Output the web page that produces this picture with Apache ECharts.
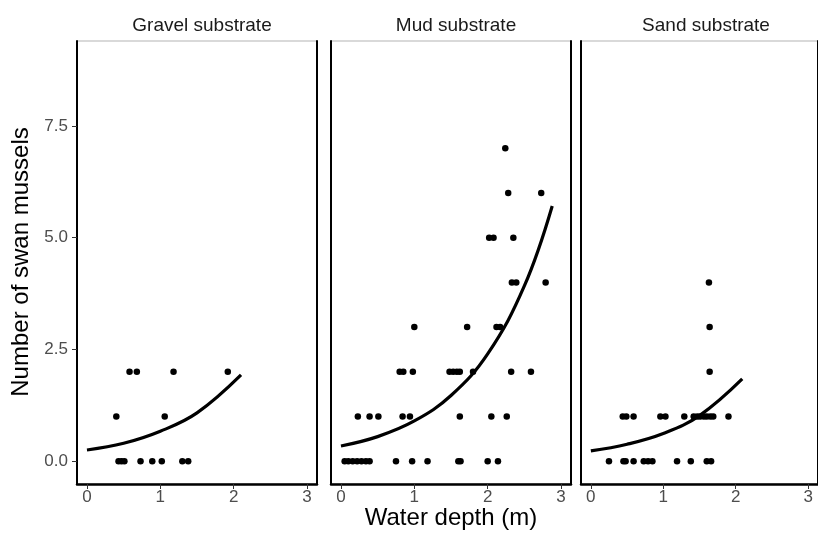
<!DOCTYPE html>
<html>
<head>
<meta charset="utf-8">
<script src="https://cdn.jsdelivr.net/npm/echarts@6/dist/echarts.min.js"></script>
<style>
  html, body { margin: 0; padding: 0; background: #ffffff; }
  #chart { width: 818px; height: 536px; }
</style>
</head>
<body>
<div id="chart"></div>
<script>
// Facet labels
const substrates = ['Gravel substrate', 'Mud substrate', 'Sand substrate'];

// Observed mussel counts against water depth, one pair of arrays per substrate
const gravelDepth = [0.58, 0.68, 1.18, 1.92, 0.40, 1.06, 0.43, 0.47, 0.51, 0.73, 0.89, 1.02, 1.30, 1.38];
const gravelCount = [2, 2, 2, 2, 1, 1, 0, 0, 0, 0, 0, 0, 0, 0];

const mudDepth = [2.24, 2.28, 2.73, 2.02, 2.08, 2.35, 2.33, 2.39, 2.79,
  1.00, 1.72, 2.12, 2.17,
  0.80, 0.85, 0.98, 1.48, 1.53, 1.58, 1.62, 1.80, 2.32, 2.59,
  0.23, 0.39, 0.51, 0.84, 0.94, 1.62, 2.05, 2.26,
  0.05, 0.10, 0.16, 0.22, 0.28, 0.34, 0.39, 0.75, 0.97, 1.18, 1.60, 1.63, 2.00, 2.14];
const mudCount = [7, 6, 6, 5, 5, 5, 4, 4, 4,
  3, 3, 3, 3,
  2, 2, 2, 2, 2, 2, 2, 2, 2, 2,
  1, 1, 1, 1, 1, 1, 1, 1,
  0, 0, 0, 0, 0, 0, 0, 0, 0, 0, 0, 0, 0, 0];

const sandDepth = [1.63, 1.64, 1.64,
  0.44, 0.49, 0.59, 0.96, 1.03, 1.29, 1.42, 1.47, 1.51, 1.56, 1.60, 1.65, 1.69, 1.90,
  0.25, 0.45, 0.48, 0.59, 0.73, 0.79, 0.85, 1.19, 1.38, 1.60, 1.66];
const sandCount = [4, 3, 2,
  1, 1, 1, 1, 1, 1, 1, 1, 1, 1, 1, 1, 1, 1,
  0, 0, 0, 0, 0, 0, 0, 0, 0, 0, 0];

// Fitted Poisson trend per substrate
const gravelFitDepth = [0, 0.5, 1.0, 1.5, 2.1];
const gravelFitCount = [0.25, 0.40, 0.67, 1.08, 1.93];
const mudFitDepth = [0, 0.5, 1.0, 1.5, 2.0, 2.5, 2.88];
const mudFitCount = [0.34, 0.55, 0.90, 1.47, 2.40, 3.92, 5.71];
const sandFitDepth = [0, 0.5, 1.0, 1.5, 2.09];
const sandFitCount = [0.23, 0.38, 0.62, 1.02, 1.84];

// Axis ticks
const xTicks = [0, 1, 2, 3];
const yTicks = [0, 2.5, 5, 7.5];

const pairs = (xs, ys) => xs.map((x, i) => [x, ys[i]]);
const points = [pairs(gravelDepth, gravelCount), pairs(mudDepth, mudCount), pairs(sandDepth, sandCount)];
const fits = [pairs(gravelFitDepth, gravelFitCount), pairs(mudFitDepth, mudFitCount), pairs(sandFitDepth, sandFitCount)];

const FONT = '"Liberation Sans", Arial, sans-serif';
const panelLefts = [77, 331, 581];
const panelWidth = 240;
const panelTop = 41;
const panelHeight = 443;

const grid = [], xAxis = [], yAxis = [], series = [], titles = [];

panelLefts.forEach((left, i) => {
  grid.push({
    left: left, top: panelTop, width: panelWidth, height: panelHeight,
    show: true, borderWidth: 1, borderColor: '#b3b3b3', backgroundColor: '#ffffff'
  });
  xAxis.push({
    type: 'value', gridIndex: i, min: -0.136, max: 3.136,
    axisLine: { show: true, onZero: false, lineStyle: { color: '#000', width: 2.5 } },
    axisTick: { show: true, length: 5, customValues: xTicks, lineStyle: { color: '#333', width: 1 } },
    axisLabel: { show: true, customValues: xTicks, color: '#4d4d4d', fontSize: 17, fontFamily: FONT, margin: 5 },
    splitLine: { show: false }
  });
  yAxis.push({
    type: 'value', gridIndex: i, min: -0.51, max: 9.40, position: 'left',
    axisLine: { show: true, onZero: false, lineStyle: { color: '#000', width: 2 } },
    axisTick: { show: i === 0, length: 5, customValues: yTicks, lineStyle: { color: '#333', width: 1 } },
    axisLabel: {
      show: i === 0, customValues: yTicks, color: '#4d4d4d', fontSize: 17, fontFamily: FONT, margin: 9,
      formatter: v => v.toFixed(1)
    },
    splitLine: { show: false }
  });
  // right-hand panel edge
  yAxis.push({
    type: 'value', gridIndex: i, min: -0.51, max: 9.40, position: 'right',
    axisLine: { show: true, onZero: false, lineStyle: { color: '#000', width: 2 } },
    axisTick: { show: false }, axisLabel: { show: false }, splitLine: { show: false }
  });
  series.push({
    type: 'scatter', xAxisIndex: i, yAxisIndex: 2 * i,
    data: points[i], symbol: 'circle', symbolSize: 6.5,
    itemStyle: { color: '#000', opacity: 1 }, silent: true
  });
  series.push({
    type: 'line', xAxisIndex: i, yAxisIndex: 2 * i,
    data: fits[i], smooth: 0.4, showSymbol: false,
    lineStyle: { color: '#000', width: 3.2 }, silent: true
  });
  titles.push({
    text: substrates[i], left: left + panelWidth / 2, top: 11, textAlign: 'center',
    textStyle: { fontSize: 19, fontWeight: 'normal', color: '#1a1a1a', fontFamily: FONT }
  });
});

const chart = echarts.init(document.getElementById('chart'), null, { renderer: 'canvas' });
chart.setOption({
  animation: false,
  backgroundColor: '#ffffff',
  title: titles,
  grid: grid,
  xAxis: xAxis,
  yAxis: yAxis,
  series: series,
  graphic: [
    {
      type: 'text', x: 451, y: 506,
      style: { text: 'Water depth (m)', fontSize: 24, fontFamily: FONT, fill: '#000', textAlign: 'center', textVerticalAlign: 'top' }
    },
    {
      type: 'text', x: 9, y: 262, rotation: Math.PI / 2,
      style: { text: 'Number of swan mussels', fontSize: 24, fontFamily: FONT, fill: '#000', textAlign: 'center', textVerticalAlign: 'top' }
    }
  ]
});
</script>
</body>
</html>
